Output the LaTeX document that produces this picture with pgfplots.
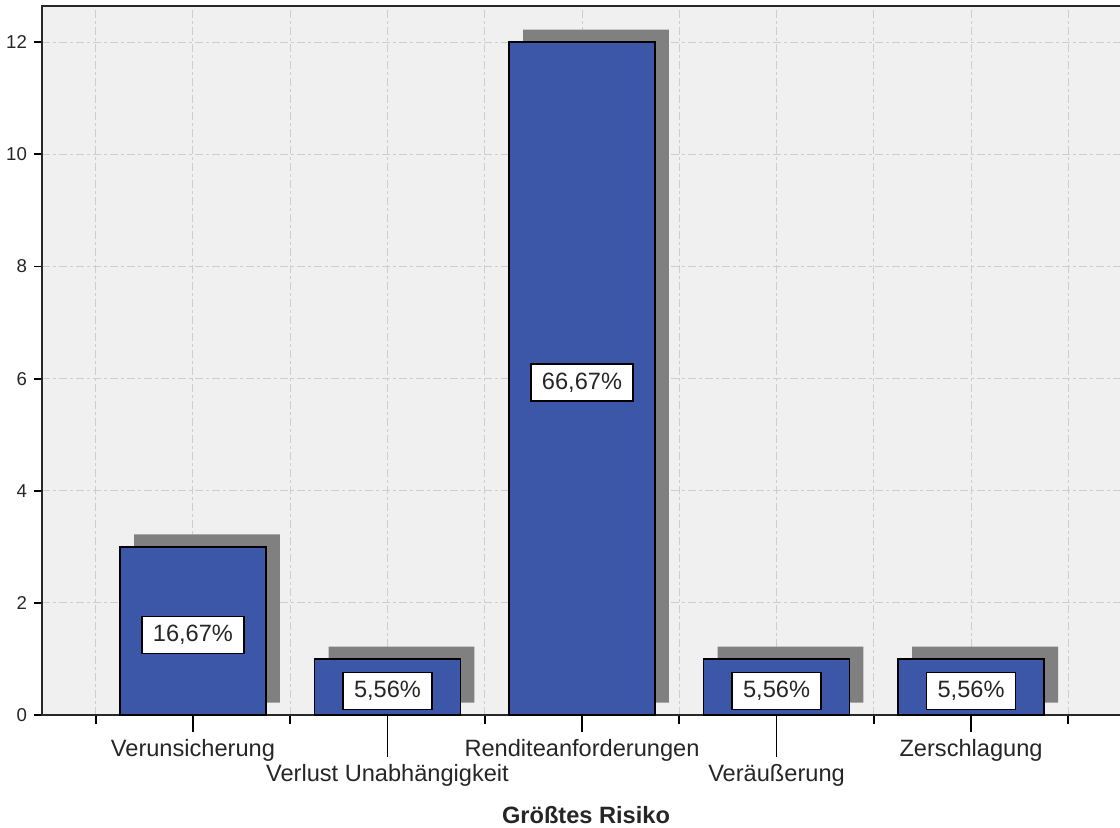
\documentclass[border=0pt]{standalone}
\usepackage{pgfplots}
\usepackage{pgfplotstable}
\pgfplotsset{compat=1.18}
\usepackage{fontspec}
\setmainfont{Liberation Sans}
\definecolor{barblue}{RGB}{60,87,168}
\definecolor{shadowgray}{RGB}{128,128,128}
\definecolor{bggray}{RGB}{240,240,240}
\definecolor{gridgray}{RGB}{205,205,205}
\definecolor{axisdark}{RGB}{40,40,40}

\pgfplotstableread{
x y ly label
0 3 1.43 {16,67\%}
1 1 0.43 {5,56\%}
2 12 5.93 {66,67\%}
3 1 0.43 {5,56\%}
4 1 0.43 {5,56\%}
}\datatable

\begin{document}
\begin{tikzpicture}
\begin{axis}[
  set layers,
  scale only axis, width=539.9pt, height=354.5pt,
  xmin=-0.776, xmax=4.776, ymin=0, ymax=12.643,
  axis background/.style={fill=bggray},
  axis line style={axisdark, line width=1pt},
  tick align=outside, tick pos=left,
  major tick length=8.5pt, minor tick length=4.5pt,
  tick style={black, line width=0.9pt},
  minor tick style={black, line width=0.9pt},
  xtick={0,2,4},
  xticklabels={Verunsicherung,Renditeanforderungen,Zerschlagung},
  minor xtick={-0.5,0.5,...,4.5},
  extra x ticks={1,3},
  extra x tick labels={Verlust Unabhängigkeit,Veräußerung},
  extra x tick style={major tick length=21pt, grid=major,
     major tick style={black, solid, line width=0.9pt}},
  ytick=\empty,
  extra y ticks={0,2,...,12},
  extra y tick style={major tick length=4pt, grid=major,
     major tick style={black, solid, line width=0.9pt}},
  grid=both,
  major grid style={gridgray, line width=0.5pt, dash pattern=on 4pt off 1.5pt on 1.5pt off 1.5pt},
  minor grid style={gridgray, line width=0.5pt, dash pattern=on 4pt off 1.5pt on 1.5pt off 1.5pt},
  x tick label style={font=\fontsize{11.8}{14}\selectfont, text=black!85},
  y tick label style={font=\fontsize{9.3}{11}\selectfont, text=black!85},
  /pgf/number format/assume math mode=true,
  xlabel={Größtes Risiko},
  xlabel style={font=\bfseries\fontsize{11.8}{14}\selectfont, text=black!85, at={(axis description cs:0.5,0)}, anchor=center, yshift=-50pt, xshift=2pt},
]
\addplot[ybar, bar width=0.75, bar shift=0pt, fill=shadowgray, draw=none, xshift=7pt, yshift=6.25pt]
  table[x=x, y=y]{\datatable};
\addplot[ybar, bar width=0.75, bar shift=0pt, fill=barblue, draw=black, line width=0.9pt]
  table[x=x, y=y]{\datatable};
\addplot[draw=none, mark=none, point meta=explicit symbolic,
  nodes near coords, nodes near coords align=center,
  every node near coord/.append style={anchor=center, fill=white, draw=black, line width=0.8pt,
    inner xsep=5.5pt, minimum height=18.5pt, font=\fontsize{11.8}{14}\selectfont, text=black!85}]
  table[x=x, y=ly, meta=label]{\datatable};
\end{axis}
\pgfresetboundingbox
\useasboundingbox ([shift={(-21pt,-56pt)}]current axis.south west) rectangle ([shift={(-1pt,3pt)}]current axis.north east);
\end{tikzpicture}
\end{document}
